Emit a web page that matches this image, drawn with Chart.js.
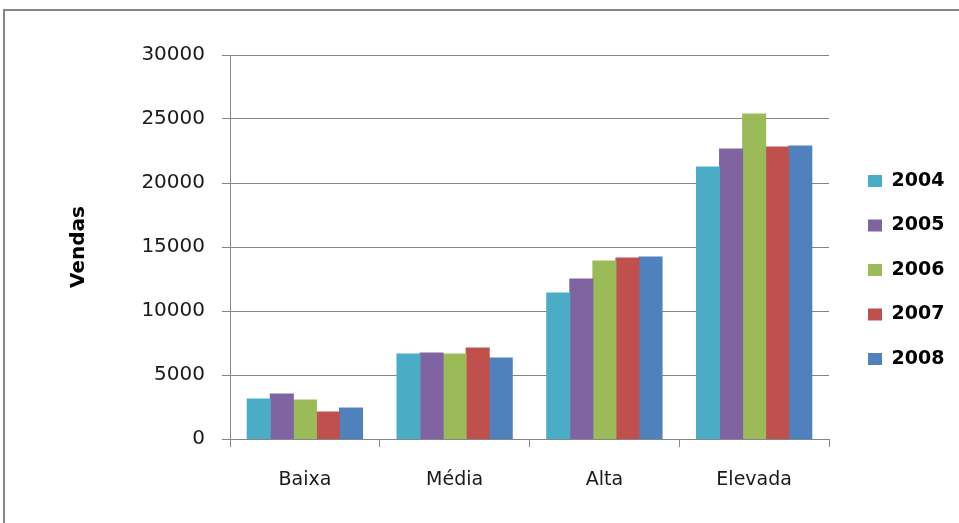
<!DOCTYPE html>
<html>
<head>
<meta charset="utf-8">
<script src="https://cdn.jsdelivr.net/npm/chart.js@4/dist/chart.umd.min.js"></script>
<style>
  html, body { margin: 0; padding: 0; background: #fff; }
  #wrap { width: 959px; height: 523px; position: relative; }
</style>
</head>
<body>
<div id="wrap"><canvas id="chart"></canvas></div>
<script>
const categories = ['Baixa', 'Média', 'Alta', 'Elevada'];
const years = ['2004', '2005', '2006', '2007', '2008'];
const colors = ['#4BACC6', '#8064A2', '#9BBB59', '#C0504D', '#4F81BD'];

const vendas2004 = [3130, 6650, 11400, 21250];
const vendas2005 = [3520, 6720, 12500, 22660];
const vendas2006 = [3050, 6640, 13900, 25390];
const vendas2007 = [2110, 7110, 14140, 22810];
const vendas2008 = [2420, 6330, 14220, 22890];
const series = [vendas2004, vendas2005, vendas2006, vendas2007, vendas2008];

const yTicks = [0, 5000, 10000, 15000, 20000, 25000, 30000];

const gridGray = '#868686';
const font = 'DejaVu Sans';

// outer frame like the spreadsheet chart box
const framePlugin = {
  id: 'frame',
  beforeDraw(chart) {
    const ctx = chart.ctx;
    ctx.save();
    ctx.fillStyle = '#fff';
    ctx.fillRect(0, 0, chart.width, chart.height);
    ctx.strokeStyle = gridGray;
    ctx.lineWidth = 2;
    ctx.strokeRect(4, 10, 1000, 600);
    ctx.restore();
  }
};

new Chart(document.getElementById('chart'), {
  type: 'bar',
  data: {
    labels: categories,
    datasets: years.map((y, i) => ({
      label: y,
      data: series[i],
      backgroundColor: colors[i],
      borderWidth: 0,
      inflateAmount: 0.5,
      categoryPercentage: 0.77,
      barPercentage: 1.0
    }))
  },
  options: {
    responsive: true,
    maintainAspectRatio: false,
    animation: false,
    layout: { padding: { top: 55, bottom: 38, left: 0, right: 4.6 } },
    plugins: {
      tooltip: { enabled: false },
      legend: {
        position: 'right',
        labels: {
          boxWidth: 14,
          boxHeight: 12,
          padding: 25.5,
          color: '#000',
          font: { family: font, size: 19, weight: 'bold' }
        }
      }
    },
    scales: {
      x: {
        offset: true,
        grid: {
          offset: true,
          drawOnChartArea: false,
          drawTicks: true,
          tickLength: 8,
          color: gridGray
        },
        border: { color: gridGray, width: 1 },
        ticks: {
          padding: 22,
          color: '#1a1a1a',
          font: { family: font, size: 19 }
        },
        afterFit(scale) { scale.height = 46; }
      },
      y: {
        min: 0,
        max: 30000,
        afterBuildTicks(scale) {
          scale.ticks = yTicks.map(v => ({ value: v }));
        },
        grid: {
          color: gridGray,
          tickLength: 8,
          drawTicks: true
        },
        border: { color: gridGray, width: 1 },
        ticks: {
          padding: 17,
          color: '#1a1a1a',
          font: { family: font, size: 20 },
          callback: v => String(v)
        },
        title: {
          display: true,
          text: 'Vendas',
          color: '#000',
          padding: { top: 67, bottom: 0 },
          font: { family: font, size: 20, weight: 'bold' }
        },
        afterFit(scale) { scale.width = 230; }
      },
      gap: {
        type: 'linear',
        position: 'right',
        display: true,
        grid: { display: false, drawTicks: false },
        border: { display: false },
        ticks: { display: false },
        afterFit(scale) { scale.width = 13.5; }
      }
    }
  },
  plugins: [framePlugin]
});
</script>
</body>
</html>
